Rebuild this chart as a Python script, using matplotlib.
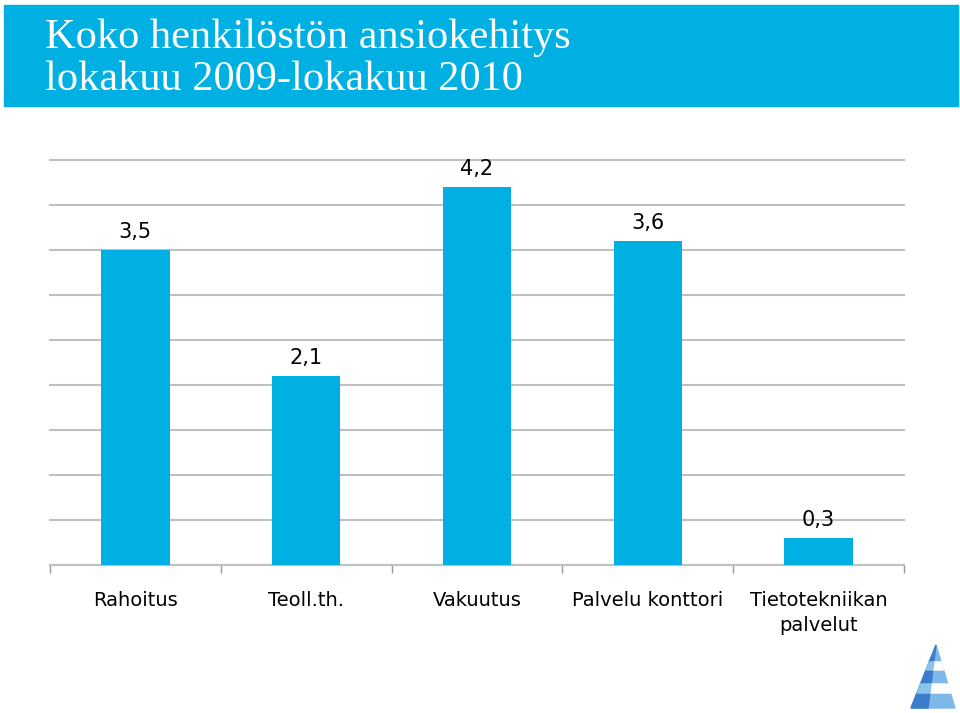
import matplotlib.pyplot as plt
from matplotlib.patches import Rectangle, Polygon

categories = ['Rahoitus', 'Teoll.th.', 'Vakuutus', 'Palvelu konttori', 'Tietotekniikan\npalvelut']
values = [3.5, 2.1, 4.2, 3.6, 0.3]
value_labels = ['3,5', '2,1', '4,2', '3,6', '0,3']

blue = '#00B0E3'

fig = plt.figure(figsize=(9.6, 7.13), dpi=100)

# title banner
fig.patches.append(Rectangle((4 / 960, 1 - 106 / 713), 954 / 960, 101 / 713,
                             transform=fig.transFigure, color=blue, zorder=0))
fig.text(45 / 960, 1 - 38 / 713, 'Koko henkilöstön ansiokehitys', color='white',
         family='Liberation Serif', fontsize=30.5, va='center', ha='left')
fig.text(45 / 960, 1 - 80 / 713, 'lokakuu 2009-lokakuu 2010', color='white',
         family='Liberation Serif', fontsize=30.5, va='center', ha='left')

ax = fig.add_axes([50 / 960, 1 - 565 / 713, 854 / 960, 405 / 713])
x = range(len(categories))
ax.bar(x, values, width=0.4, color=blue, zorder=3)
ax.set_xlim(-0.5, len(categories) - 0.5)
ax.set_ylim(0, 4.5)
ax.set_yticks([i * 0.5 for i in range(10)])
ax.yaxis.grid(True, color='#C0C0C0', linewidth=1.5, zorder=0)
for gl in ax.get_ygridlines():
    gl.set_clip_on(False)
ax.tick_params(axis='y', left=False, labelleft=False)
for s in ['top', 'right', 'left']:
    ax.spines[s].set_visible(False)
ax.spines['bottom'].set_color('#C0C0C0')
ax.spines['bottom'].set_linewidth(1.5)

ax.set_xticks([i - 0.5 for i in range(len(categories) + 1)])
ax.set_xticklabels([])
ax.tick_params(axis='x', length=6, width=1, color='#999999', direction='out')

for i, (v, lab) in enumerate(zip(values, value_labels)):
    ax.annotate(lab, (i, v), xytext=(0, 6), textcoords='offset points',
                ha='center', va='bottom', fontsize=15, family='DejaVu Sans')
for i, c in enumerate(categories):
    ax.annotate(c, (i, 0), xycoords=('data', 'axes fraction'), xytext=(0, -19),
                textcoords='offset points', ha='center', va='top', fontsize=14,
                linespacing=1.35, family='DejaVu Sans')


# small striped pyramid logo, in pixel coords
def px(p):
    return (p[0] / 960, 1 - p[1] / 713)


apex, bl, bm, br = (936, 645), (911, 708), (928, 708), (955, 708)


def edge(a, b, y):
    t = (y - a[1]) / (b[1] - a[1])
    return (a[0] + (b[0] - a[0]) * t, y)


def band(y0, y1, left, right, color):
    pts = [edge(apex, left, y0), edge(apex, right, y0),
           edge(apex, right, y1), edge(apex, left, y1)]
    fig.patches.append(Polygon([px(p) for p in pts], closed=True,
                               transform=fig.transFigure, color=color, zorder=2))


fig.patches.append(Polygon([px(apex), px(bl), px(br)], closed=True,
                           transform=fig.transFigure, color='#7DB9E8', zorder=1))
fig.patches.append(Polygon([px(apex), px(bl), px(bm)], closed=True,
                           transform=fig.transFigure, color='#3C7CCB', zorder=1))
for y0, y1 in [(662, 670), (684, 693)]:
    band(y0, y1, bm, br, 'white')
    band(y0, y1, bl, bm, '#8CC3EC')

fig.savefig('out.png', dpi=100)
